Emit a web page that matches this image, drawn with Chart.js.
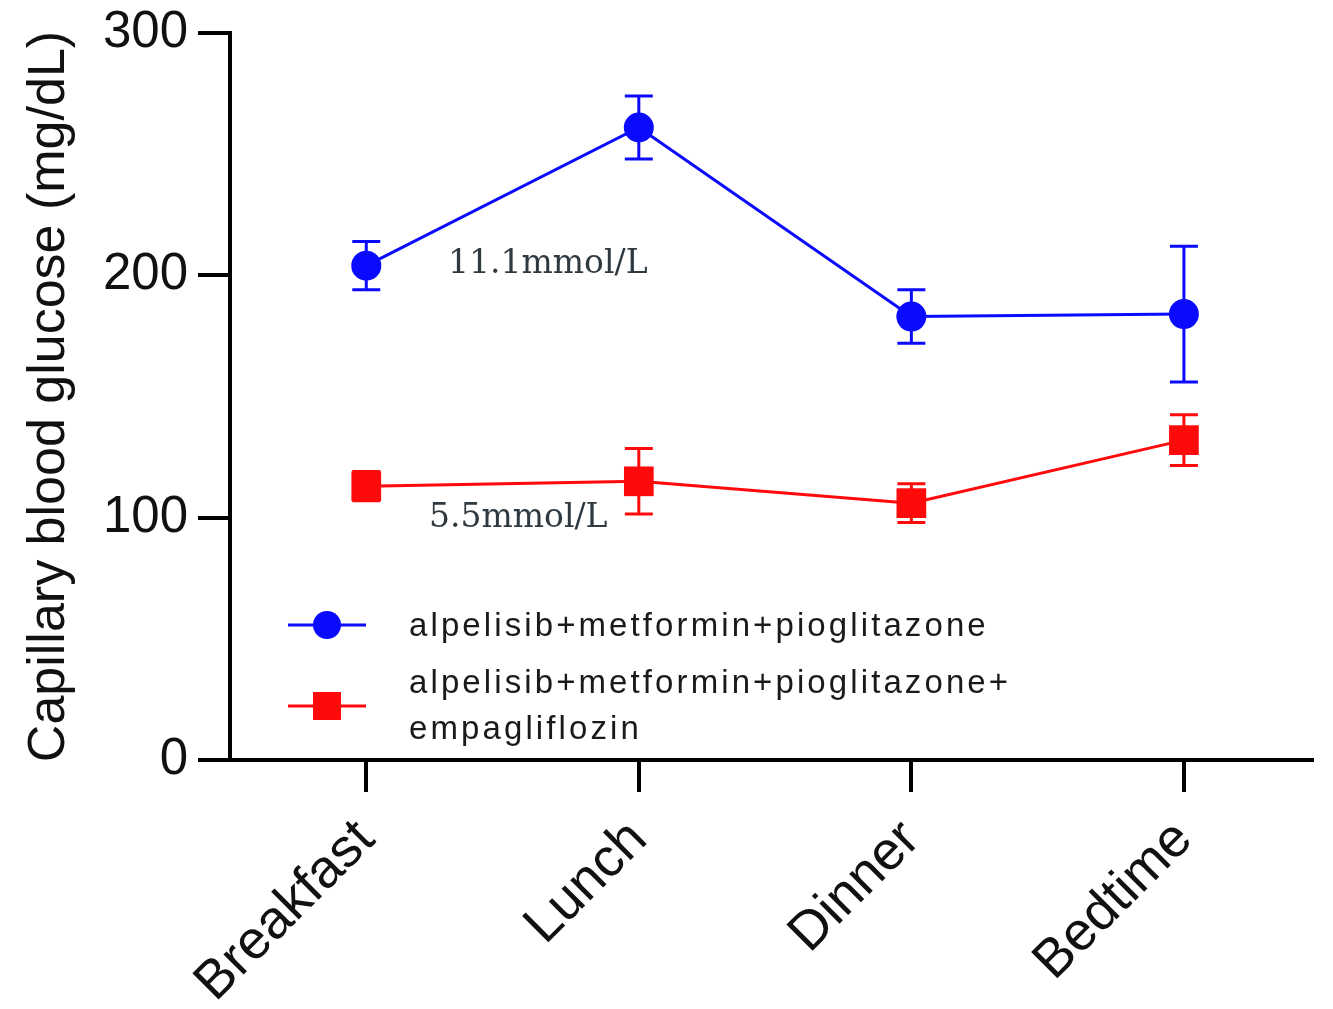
<!DOCTYPE html>
<html>
<head>
<meta charset="utf-8">
<title>Capillary blood glucose</title>
<script src="https://cdn.jsdelivr.net/npm/chart.js@4.4.1/dist/chart.umd.min.js"></script>
<style>
    html, body { margin: 0; padding: 0; background: #fff; overflow: hidden; }
    canvas { display: block; }
</style>
</head>
<body>
<canvas id="glucosaChart" width="1333" height="1009"></canvas>
<script>
// Datos (mg/dL)
const momentos = ['Breakfast', 'Lunch', 'Dinner', 'Bedtime'];
const ticksY = [0, 100, 200, 300];

const nombreA = 'alpelisib+metformin+pioglitazone';
const mediaA = [204, 261, 183, 184];
const errorA = [10, 13, 11, 28];

const nombreB = 'alpelisib+metformin+pioglitazone+empagliflozin';
const mediaB = [113, 115, 106, 132];
const errorB = [6, 13.5, 8, 10.5];

// textos de referencia en mmol/L
const notas = ['11.1mmol/L', '5.5mmol/L'];
const notasX = [0.3, 0.23];
const notasY = [201, 96];

const fuente = "'Liberation Sans', Arial, Helvetica, sans-serif";

// Barras de error (la libreria no las trae)
const barrasError = {
    id: 'barrasError',
    afterDatasetsDraw(chart) {
        const ctx = chart.ctx;
        const escalaY = chart.scales.y;
        chart.data.datasets.forEach((ds, i) => {
            const meta = chart.getDatasetMeta(i);
            ctx.save();
            ctx.strokeStyle = ds.borderColor;
            ctx.lineWidth = 3;
            meta.data.forEach((pt, j) => {
                const v = ds.data[j].y;
                const e = ds.errores[j];
                const arriba = escalaY.getPixelForValue(v + e);
                const abajo = escalaY.getPixelForValue(v - e);
                ctx.beginPath();
                ctx.moveTo(pt.x, arriba);
                ctx.lineTo(pt.x, abajo);
                ctx.moveTo(pt.x - 14, arriba);
                ctx.lineTo(pt.x + 14, arriba);
                ctx.moveTo(pt.x - 14, abajo);
                ctx.lineTo(pt.x + 14, abajo);
                ctx.stroke();
            });
            ctx.restore();
        });
    }
};

// Leyenda dentro del area del grafico
const leyenda = {
    id: 'leyenda',
    afterDraw(chart) {
        const ctx = chart.ctx;
        const filas = [
            { ds: chart.data.datasets[0], y: 625, lineas: ['alpelisib+metformin+pioglitazone'], bases: [636] },
            { ds: chart.data.datasets[1], y: 706, lineas: ['alpelisib+metformin+pioglitazone+', 'empagliflozin'], bases: [693, 739] }
        ];
        ctx.save();
        filas.forEach(f => {
            ctx.strokeStyle = f.ds.borderColor;
            ctx.fillStyle = f.ds.backgroundColor;
            ctx.lineWidth = 3;
            ctx.beginPath();
            ctx.moveTo(288, f.y);
            ctx.lineTo(366, f.y);
            ctx.stroke();
            if (f.ds.pointStyle === 'rect') {
                ctx.fillRect(313, f.y - 14, 28, 28);
            } else {
                ctx.beginPath();
                ctx.arc(327, f.y, 14, 0, Math.PI * 2);
                ctx.fill();
            }
            ctx.fillStyle = '#1a1a1a';
            ctx.font = '33px ' + fuente;
            ctx.letterSpacing = '3.1px';
            ctx.textBaseline = 'alphabetic';
            ctx.textAlign = 'left';
            f.lineas.forEach((t, k) => {
                ctx.fillText(t, 409, f.bases[k]);
            });
        });
        ctx.restore();
    }
};

// Notas de texto en mmol/L
const notasTexto = {
    id: 'notasTexto',
    afterDraw(chart) {
        const ctx = chart.ctx;
        ctx.save();
        ctx.fillStyle = '#2f3a40';
        ctx.font = "33px 'DejaVu Serif', Georgia, serif";
        ctx.textBaseline = 'alphabetic';
        ctx.textAlign = 'left';
        notas.forEach((t, i) => {
            const x = chart.scales.x.getPixelForValue(notasX[i]);
            const y = chart.scales.y.getPixelForValue(notasY[i]);
            ctx.fillText(t, x, y);
        });
        ctx.restore();
    }
};

const ctx = document.getElementById('glucosaChart').getContext('2d');

const glucosaChart = new Chart(ctx, {
    type: 'line',
    data: {
        datasets: [{
            label: nombreA,
            data: mediaA.map((v, i) => ({ x: i, y: v })),
            errores: errorA,
            borderColor: '#0a0aff',
            backgroundColor: '#0a0aff',
            borderWidth: 3,
            pointStyle: 'circle',
            pointRadius: 15,
            pointBorderWidth: 0,
            tension: 0
        }, {
            label: nombreB,
            data: mediaB.map((v, i) => ({ x: i, y: v })),
            errores: errorB,
            borderColor: '#ff0a0a',
            backgroundColor: '#ff0a0a',
            borderWidth: 3,
            pointStyle: 'rect',
            pointRadius: 21,
            pointBorderWidth: 0,
            tension: 0
        }]
    },
    options: {
        responsive: false,
        animation: false,
        devicePixelRatio: 1,
        layout: {
            padding: { top: 33, right: 15, left: 0, bottom: 0 }
        },
        scales: {
            x: {
                type: 'linear',
                min: -0.5,
                max: 3.47,
                afterBuildTicks: function(scale) {
                    scale.ticks = momentos.map((m, i) => ({ value: i }));
                },
                border: { display: true, color: '#000', width: 4 },
                grid: {
                    drawOnChartArea: false,
                    drawTicks: true,
                    tickLength: 32,
                    lineWidth: 4,
                    color: '#000'
                },
                ticks: {
                    autoSkip: false,
                    minRotation: 45,
                    maxRotation: 45,
                    padding: 16,
                    color: '#111',
                    font: { family: fuente, size: 54 },
                    callback: function(valor) {
                        return momentos[valor];
                    }
                },
                afterFit: function(scale) {
                    scale.height = 249;
                    scale.paddingLeft = 0;
                    scale.paddingRight = 0;
                }
            },
            y: {
                min: 0,
                max: 300,
                afterBuildTicks: function(scale) {
                    scale.ticks = ticksY.map(v => ({ value: v }));
                },
                border: { display: true, color: '#000', width: 4 },
                grid: {
                    drawOnChartArea: false,
                    drawTicks: true,
                    tickLength: 32,
                    lineWidth: 4,
                    color: '#000'
                },
                ticks: {
                    padding: 10,
                    color: '#111',
                    font: { family: fuente, size: 51 }
                },
                title: {
                    display: true,
                    text: 'Capillary blood glucose (mg/dL)',
                    color: '#111',
                    padding: { top: 18, bottom: 0 },
                    font: { family: fuente, size: 52, weight: 'normal' }
                },
                afterFit: function(scale) {
                    scale.width = 230;
                    scale.paddingTop = 0;
                    scale.paddingBottom = 0;
                }
            }
        },
        plugins: {
            legend: { display: false },
            tooltip: { enabled: false }
        }
    },
    plugins: [barrasError, leyenda, notasTexto]
});
</script>
</body>
</html>
